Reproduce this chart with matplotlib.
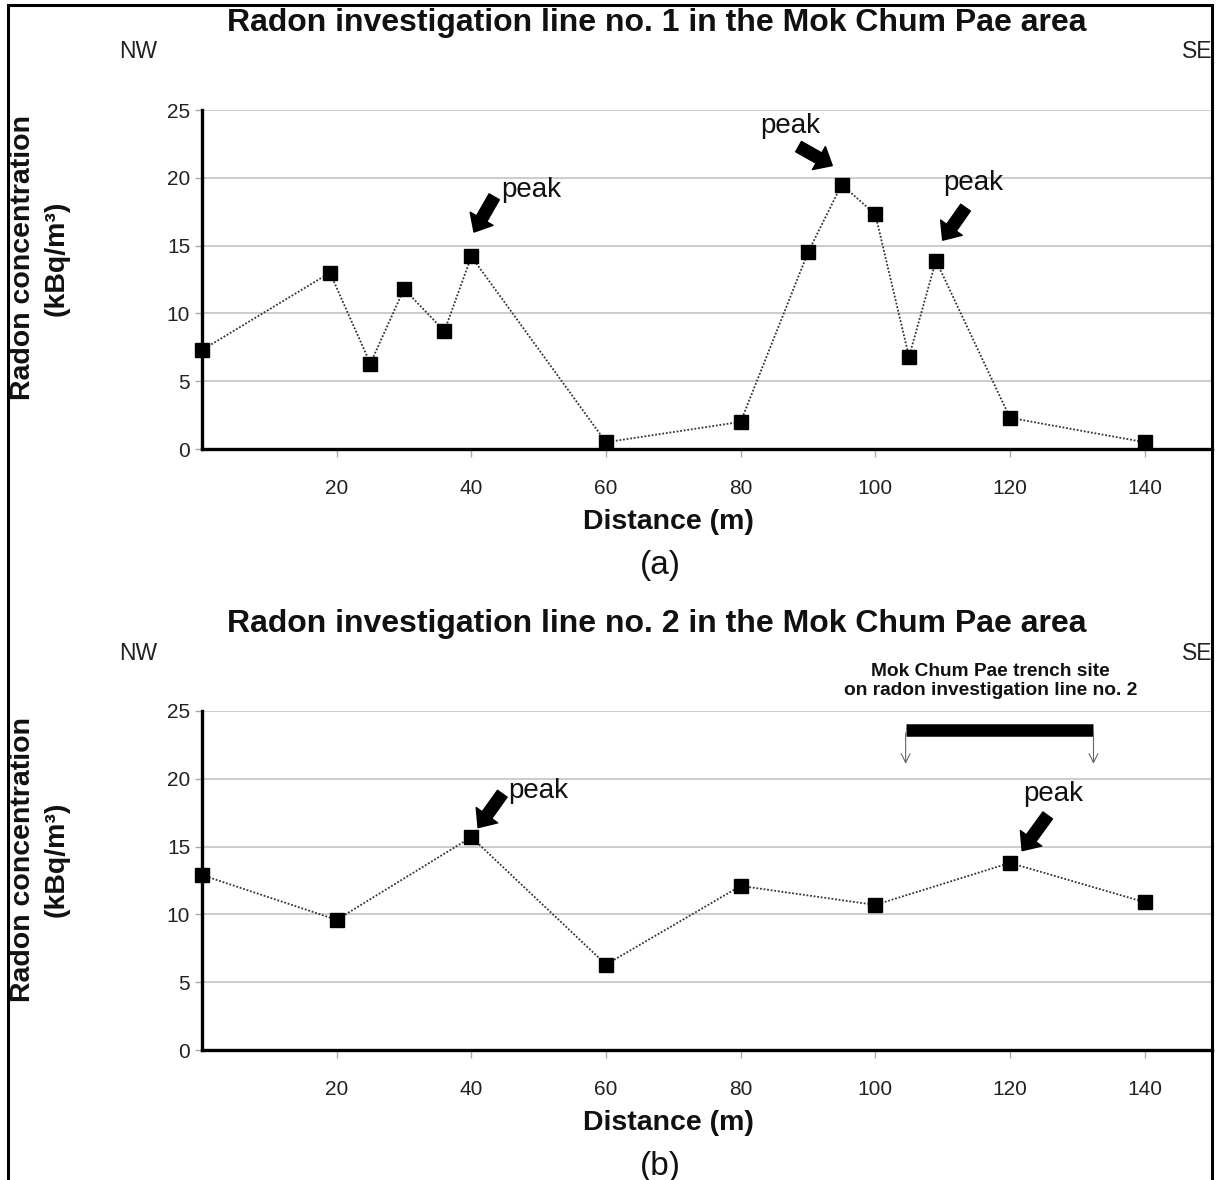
import matplotlib.pyplot as plt
from matplotlib.patches import Rectangle

plt.rcParams['font.family'] = ['Liberation Sans', 'DejaVu Sans']

# line no. 1
dist_1 = [0, 19, 25, 30, 36, 40, 60, 80, 90, 95, 100, 105, 109, 120, 140]
radon_1 = [7.3, 13.0, 6.3, 11.8, 8.7, 14.2, 0.5, 2.0, 14.5, 19.5, 17.3, 6.8, 13.9, 2.3, 0.5]
# line no. 2
dist_2 = [0, 20, 40, 60, 80, 100, 120, 140]
radon_2 = [12.9, 9.6, 15.7, 6.3, 12.1, 10.7, 13.8, 10.9]

xticks = [20, 40, 60, 80, 100, 120, 140]
yticks = [0, 5, 10, 15, 20, 25]

# peak labels: (text x, text y, arrow tail x, tail y, tip x, tip y)
peaks_1 = [(48.9, 19.1, 43.4, 18.6, 40.4, 16.0),
           (87.4, 23.8, 88.6, 22.3, 93.6, 20.9),
           (114.6, 19.6, 113.4, 17.8, 110.0, 15.4)]
peaks_2 = [(49.9, 19.1, 44.6, 18.9, 41.0, 16.4),
           (126.4, 18.9, 125.6, 17.3, 121.8, 14.7)]
trench = (104.5, 132.4)

W, H = 1216, 1180
fig = plt.figure(figsize=(W / 100, H / 100), dpi=100)


def make_panel(top_px, xs, ys, peaks, title, tag):
    bottom_px = top_px + 339
    ax = fig.add_axes([202 / W, 1 - bottom_px / H, 1010 / W, 339 / H])
    ax.set_xlim(0, 150)
    ax.set_ylim(0, 25)
    for y in yticks[1:]:
        ax.axhline(y, color='#c8c8c8', lw=1.3, zorder=0)
    ax.plot(xs, ys, linestyle=(0, (1, 1)), color='#333333', lw=1.3,
            marker='s', markersize=9.5, markerfacecolor='black',
            markeredgecolor='black', clip_on=False, zorder=3)
    ax.spines['top'].set_visible(False)
    ax.spines['right'].set_visible(False)
    ax.spines['left'].set_linewidth(2.4)
    ax.spines['bottom'].set_linewidth(2.4)
    ax.set_xticks(xticks)
    ax.set_yticks(yticks)
    ax.tick_params(axis='x', length=6, width=1, color='#aaaaaa', pad=15.5, labelsize=15, labelcolor='#222222')
    ax.tick_params(axis='y', length=5, width=1, color='#aaaaaa', pad=3.5, labelsize=15, labelcolor='#222222')
    for tx, ty, ax0, ay0, ax1, ay1 in peaks:
        ax.text(tx, ty, 'peak', fontsize=20, ha='center', va='center', color='#111111')
        ax.annotate('', xy=(ax1, ay1), xytext=(ax0, ay0),
                    arrowprops=dict(facecolor='black', edgecolor='black',
                                    width=8.5, headwidth=19, headlength=11, shrink=0))
    fig.text(0.5403, 1 - (top_px - 87) / H, title, fontsize=23, fontweight='bold',
             ha='center', va='center', color='#111111')
    fig.text(138 / W, 1 - (top_px - 58) / H, 'NW', fontsize=16.5, ha='center', va='center', color='#222222')
    fig.text(1182 / W, 1 - (top_px - 58) / H, 'SE', fontsize=16.5, ha='left', va='center', color='#222222')
    fig.text(668 / W, 1 - (top_px + 412) / H, 'Distance (m)', fontsize=20.5, fontweight='bold',
             ha='center', va='center', color='#111111')
    fig.text(660 / W, 1 - (top_px + 455) / H, tag, fontsize=24, ha='center', va='center', color='#111111')
    fig.text(40 / W, 1 - (top_px + 148) / H, 'Radon concentration\n(kBq/m³)', fontsize=20.5,
             fontweight='bold', rotation=90, ha='center', va='center', multialignment='center',
             linespacing=1.4, color='#111111')
    return ax


make_panel(110, dist_1, radon_1, peaks_1,
           'Radon investigation line no. 1 in the Mok Chum Pae area', '(a)')
ax2 = make_panel(711, dist_2, radon_2, peaks_2,
                 'Radon investigation line no. 2 in the Mok Chum Pae area', '(b)')

# trench site marker on line no. 2
ax2.plot(trench, [23.6, 23.6], color='black', lw=9, solid_capstyle='butt', clip_on=False)
for xe in trench:
    ax2.annotate('', xy=(xe, 20.9), xytext=(xe, 23.6),
                 arrowprops=dict(arrowstyle='->', color='#666666', lw=0.8, mutation_scale=16))
ax2.text(sum(trench) / 2 - 1.3, 27.2, 'Mok Chum Pae trench site\non radon investigation line no. 2',
         fontsize=13.8, fontweight='bold', ha='center', va='center', linespacing=1.15,
         color='#111111', clip_on=False)

# frame round the whole figure
fig.patches.append(Rectangle((8 / W, -0.01), 1204 / W, 1.01 - 5 / H, transform=fig.transFigure,
                             fill=False, edgecolor='black', lw=2.2, clip_on=False))

fig.savefig('out.png', dpi=100)
